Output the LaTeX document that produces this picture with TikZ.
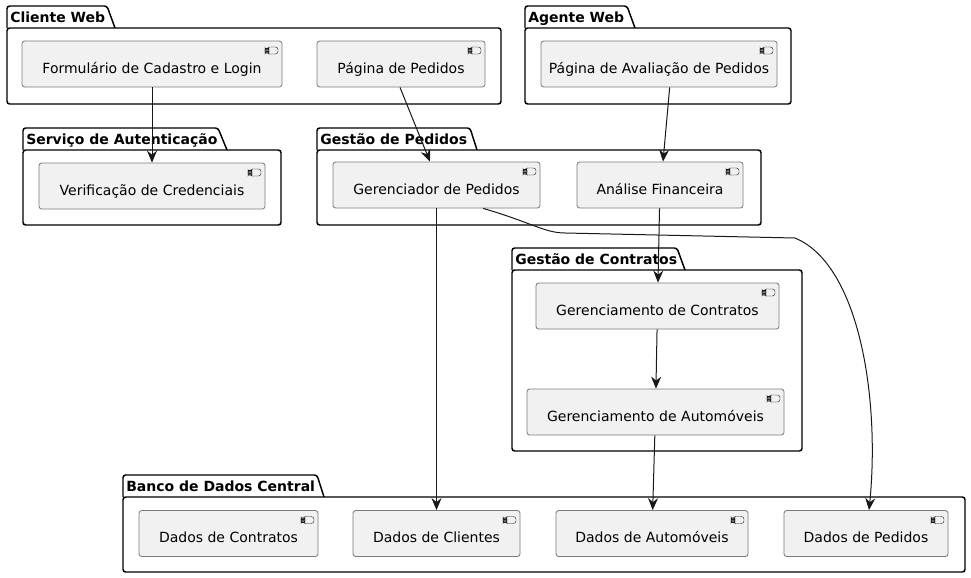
\documentclass[tikz,border=0pt]{standalone}
\usepackage{fontspec}
\setmainfont{DejaVu Sans}
\usepackage{xcolor}
\usepackage{tikz}
\usetikzlibrary{arrows.meta}

\definecolor{compfill}{HTML}{F1F1F1}
\definecolor{compline}{HTML}{7A7A7A}
\definecolor{ink}{HTML}{181818}

\tikzset{
  comp/.style={draw=compline, fill=compfill, line width=.6pt, rounded corners=2pt,
    minimum height=34.5pt, inner sep=0pt, text height=16pt, text depth=2pt,
    font=\fontsize{10.5}{12}\selectfont,
    path picture={
      \draw[ink, line width=.3pt, fill=compfill]
        ([xshift=-11.25pt,yshift=-4.5pt]path picture bounding box.north east)
        rectangle ([xshift=-3pt,yshift=-9.75pt]path picture bounding box.north east);
      \draw[ink, line width=.3pt, fill=compfill]
        ([xshift=-12.75pt,yshift=-5.4pt]path picture bounding box.north east)
        rectangle ([xshift=-9.75pt,yshift=-6.9pt]path picture bounding box.north east);
      \draw[ink, line width=.3pt, fill=compfill]
        ([xshift=-12.75pt,yshift=-7.6pt]path picture bounding box.north east)
        rectangle ([xshift=-9.75pt,yshift=-9.1pt]path picture bounding box.north east);
    }},
  pkgline/.style={draw=black, line width=1.1pt, rounded corners=2pt},
  pkgtitle/.style={anchor=base west, inner sep=0pt, font=\fontsize{10.5}{12}\bfseries\selectfont},
  flow/.style={draw=ink, line width=.75pt, -{Stealth[length=9pt, width=7.5pt, inset=3pt]}}
}

\begin{document}
\begin{tikzpicture}[x=.75pt, y=-.75pt]
    \useasboundingbox (0,0) rectangle (971,578);

    % packages
    \draw[pkgline, fill=white] (7,28) |- (107,6) -- (115,28);
    \draw[pkgline, fill=white] (7,28) rectangle (501,104);
    \node[pkgtitle] (cwtitle) at (10,22) {Cliente Web};

    \draw[pkgline, fill=white] (525,28) |- (627,6) -- (635,28);
    \draw[pkgline, fill=white] (525,28) rectangle (791,104);
    \node[pkgtitle] (awtitle) at (528,22) {Agente Web};

    \draw[pkgline, fill=white] (23,150) |- (218,128) -- (227,150);
    \draw[pkgline, fill=white] (23,150) rectangle (281,225);
    \node[pkgtitle] (satitle) at (26,144) {Serviço de Autenticação};

    \draw[pkgline, fill=white] (317,150) |- (470,128) -- (477,150);
    \draw[pkgline, fill=white] (317,150) rectangle (761,225);
    \node[pkgtitle] (gptitle) at (320,144) {Gestão de Pedidos};

    \draw[pkgline, fill=white] (512,270) |- (677,248) -- (685,270);
    \draw[pkgline, fill=white] (512,270) rectangle (802,451);
    \node[pkgtitle] (gctitle) at (515,264) {Gestão de Contratos};

    \draw[pkgline, fill=white] (123,497) |- (317,475) -- (324,497);
    \draw[pkgline, fill=white] (123,497) rectangle (965,572);
    \node[pkgtitle] (bdtitle) at (126,491) {Banco de Dados Central};

    % components
    \node[comp, minimum width=195pt] (form) at (152,64) {Formulário de Cadastro e Login};
    \node[comp, minimum width=126pt] (ppag) at (401,64) {Página de Pedidos};
    \node[comp, minimum width=177pt] (aval) at (659,64) {Página de Avaliação de Pedidos};
    \node[comp, minimum width=169.5pt] (verif) at (152,186) {Verificação de Credenciais};
    \node[comp, minimum width=155.25pt] (ger) at (436.5,185) {Gerenciador de Pedidos};
    \node[comp, minimum width=124.5pt] (anal) at (660,185) {Análise Financeira};
    \node[comp, minimum width=182.25pt] (gcon) at (657.5,306) {Gerenciamento de Contratos};
    \node[comp, minimum width=192.75pt] (gaut) at (655.5,412) {Gerenciamento de Automóveis};
    \node[comp, minimum width=134.25pt] (dcon) at (228.5,533.5) {Dados de Contratos};
    \node[comp, minimum width=125.25pt] (dcli) at (436.5,533.5) {Dados de Clientes};
    \node[comp, minimum width=144pt] (daut) at (652,533.5) {Dados de Automóveis};
    \node[comp, minimum width=123pt] (dped) at (866,533.5) {Dados de Pedidos};

    % connectors
    \draw[flow] (form) -- (verif);
    \draw[flow] ([xshift=-.75pt]ppag.south) -- ([xshift=-4.9pt]ger.north);
    \draw[flow] ([xshift=8pt]aval.south) -- ([xshift=2.25pt]anal.north);
    \draw[flow] (ger) -- (dcli);
    \draw[flow] ([xshift=35pt]ger.south) .. controls (530,222) and (545,233) .. (565,233)
        -- (795,238) .. controls (860,265) and (880,400) .. ([xshift=2.25pt]dped.north);
    \draw[flow] (anal) -- (gcon);
    \draw[flow] (gcon) -- (gaut);
    \draw[flow] (gaut) -- (daut);
\end{tikzpicture}
\end{document}
